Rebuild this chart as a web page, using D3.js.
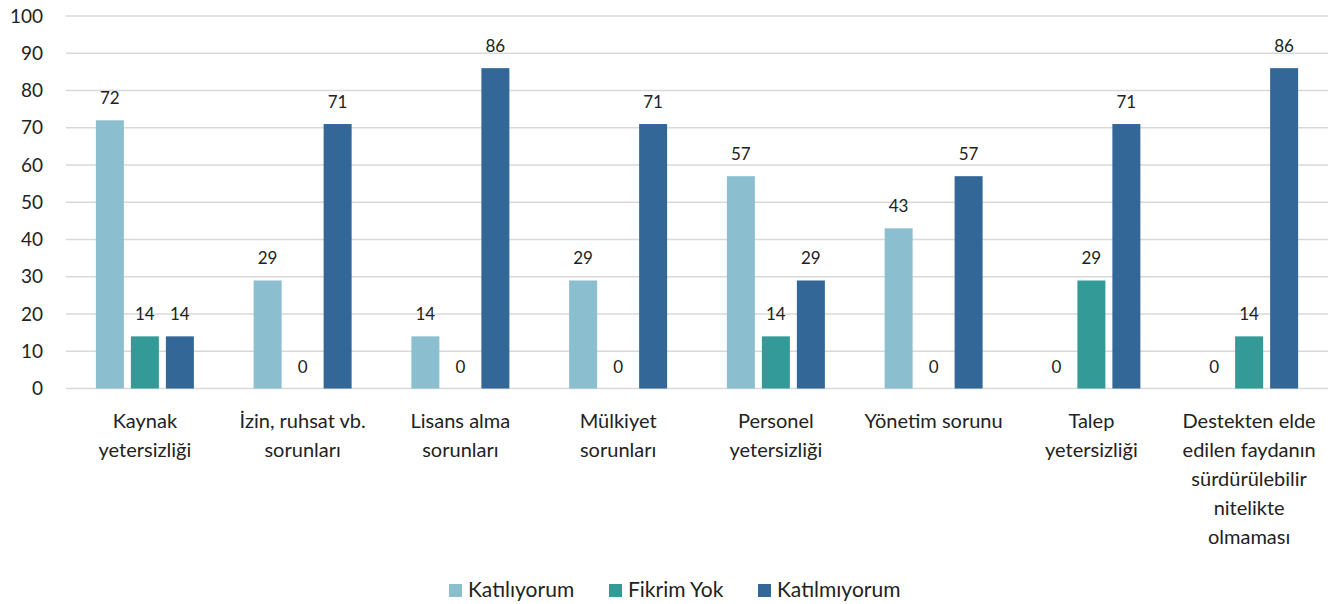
<!DOCTYPE html>
<html>
<head>
<meta charset="utf-8">
<script src="https://cdn.jsdelivr.net/npm/d3@7"></script>
<style>
  body { margin: 0; background: #fff; }
  svg text { font-family: Lato, "Open Sans", sans-serif; fill: #222; }
</style>
</head>
<body>
<div id="chart"></div>
<script>
// chart data
var categories = [
    ["Kaynak", "yetersizliği"],
    ["İzin, ruhsat vb.", "sorunları"],
    ["Lisans alma", "sorunları"],
    ["Mülkiyet", "sorunları"],
    ["Personel", "yetersizliği"],
    ["Yönetim sorunu"],
    ["Talep", "yetersizliği"],
    ["Destekten elde", "edilen faydanın", "sürdürülebilir", "nitelikte", "olmaması"]
];
var seriesNames = ["Katılıyorum", "Fikrim Yok", "Katılmıyorum"];
var katiliyorum = [72, 29, 14, 29, 57, 43, 0, 0];
var fikrimYok = [14, 0, 0, 0, 14, 0, 29, 14];
var katilmiyorum = [14, 71, 86, 71, 29, 57, 71, 86];
var yTicks = [0, 10, 20, 30, 40, 50, 60, 70, 80, 90, 100];
var colors = ["#8bbfcf", "#349a97", "#336798"];

var series = [katiliyorum, fikrimYok, katilmiyorum];

var W = 1337, H = 604;
var margin = {top: 16, right: 9, bottom: 215.5, left: 66};
var width = W - margin.left - margin.right;
var height = H - margin.top - margin.bottom;

var svg = d3.select("#chart")
    .append("svg")
    .attr("width", W)
    .attr("height", H)
    .append("g")
    .attr("transform", "translate(" + margin.left + "," + margin.top + ")");

var x0 = d3.scaleBand()
    .domain(d3.range(categories.length))
    .range([0, width]);

var groupW = 98;
var x1 = d3.scaleBand()
    .domain(d3.range(seriesNames.length))
    .range([(x0.bandwidth() - groupW) / 2, (x0.bandwidth() + groupW) / 2])
    .paddingInner(0.2);

var y = d3.scaleLinear()
    .domain([0, 100])
    .range([height, 0]);

// gridlines
svg.append("g")
    .selectAll("line")
    .data(yTicks)
    .enter()
    .append("line")
    .attr("x1", 0)
    .attr("x2", width)
    .attr("y1", function (d) { return y(d); })
    .attr("y2", function (d) { return y(d); })
    .attr("stroke", "#d9d9d9")
    .attr("stroke-width", 1.5);

// y axis labels
var yAxis = svg.append("g")
    .call(d3.axisLeft(y).tickValues(yTicks).tickSize(0).tickPadding(23));
yAxis.select(".domain").remove();
yAxis.selectAll("text")
    .style("font-size", "19px")
    .style("font-family", "Lato, 'Open Sans', sans-serif")
    .attr("fill", "#222");

// bars
var groups = svg.selectAll(".grp")
    .data(categories)
    .enter()
    .append("g")
    .attr("class", "grp")
    .attr("transform", function (d, i) { return "translate(" + x0(i) + ",0)"; });

groups.selectAll("rect")
    .data(function (d, i) { return series.map(function (s, k) { return {k: k, v: s[i]}; }); })
    .enter()
    .append("rect")
    .attr("x", function (d) { return x1(d.k); })
    .attr("y", function (d) { return y(d.v); })
    .attr("width", x1.bandwidth())
    .attr("height", function (d) { return height - y(d.v); })
    .style("fill", function (d) { return colors[d.k]; });

// value labels
groups.selectAll(".label")
    .data(function (d, i) { return series.map(function (s, k) { return {k: k, v: s[i]}; }); })
    .enter()
    .append("text")
    .attr("class", "label")
    .attr("x", function (d) { return x1(d.k) + x1.bandwidth() / 2; })
    .attr("y", function (d) { return y(d.v) - 16; })
    .attr("text-anchor", "middle")
    .style("font-size", "17px")
    .text(function (d) { return d.v; });

// category labels
groups.append("text")
    .attr("text-anchor", "middle")
    .attr("x", x0.bandwidth() / 2)
    .attr("y", height + 39)
    .style("font-size", "20px")
    .selectAll("tspan")
    .data(function (d) { return d; })
    .enter()
    .append("tspan")
    .attr("x", x0.bandwidth() / 2)
    .attr("dy", function (d, i) { return i === 0 ? 0 : 29; })
    .text(function (d) { return d; });

// legend
var legendX = [449, 609, 758];
var legend = d3.select("svg").append("g");
seriesNames.forEach(function (name, k) {
    legend.append("rect")
        .attr("x", legendX[k])
        .attr("y", 584)
        .attr("width", 13)
        .attr("height", 13)
        .style("fill", colors[k]);
    legend.append("text")
        .attr("x", legendX[k] + 19)
        .attr("y", 597)
        .style("font-size", "21px")
        .text(name);
});
</script>
</body>
</html>
